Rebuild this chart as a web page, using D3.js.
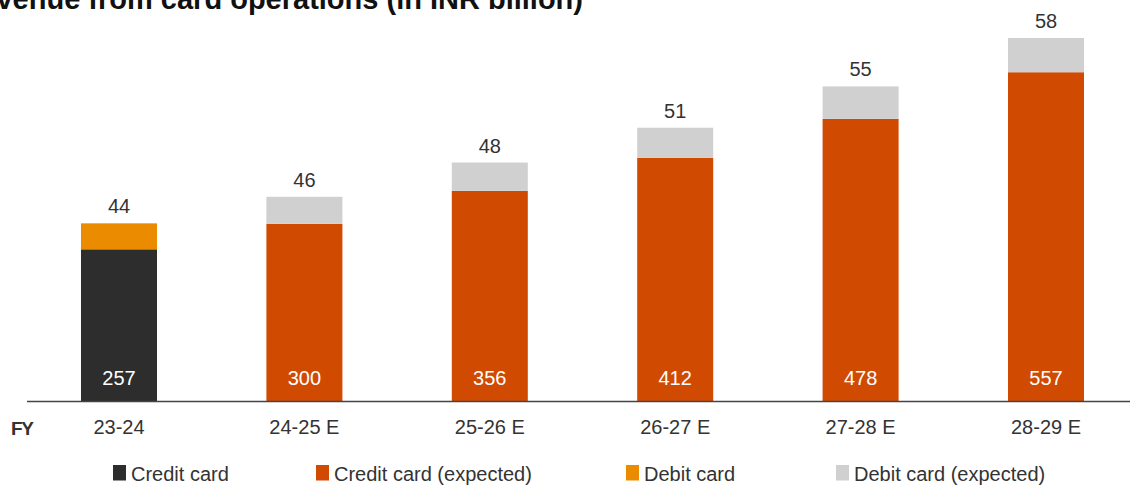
<!DOCTYPE html>
<html>
<head>
<meta charset="utf-8">
<script src="https://cdn.jsdelivr.net/npm/d3@7"></script>
<style>
  html, body { margin: 0; padding: 0; background: #fff; }
  svg { display: block; font-family: "Liberation Sans", Arial, Helvetica, sans-serif; }
</style>
</head>
<body>
<svg id="chart" width="1130" height="485"></svg>
<script>
// Revenue from card operations, INR billion
const years = ["23-24", "24-25 E", "25-26 E", "26-27 E", "27-28 E", "28-29 E"];
const creditValues = [257, 300, 356, 412, 478, 557];
const debitValues = [44, 46, 48, 51, 55, 58];
const expected = [false, true, true, true, true, true];
const legendLabels = ["Credit card", "Credit card (expected)", "Debit card", "Debit card (expected)"];

const colors = {
  credit: "#2d2d2d",
  creditExp: "#d04a02",
  debit: "#eb8c00",
  debitExp: "#d1d0d0"
};
const legendColors = [colors.credit, colors.creditExp, colors.debit, colors.debitExp];

const svg = d3.select("#chart");
const W = 1130;
const baseY = 401;

const x = d3.scaleBand()
  .domain(years)
  .range([26.3, 1138.7])
  .paddingInner(0.59)
  .paddingOuter(0.295);

const y = d3.scaleLinear()
  .domain([0, 615])
  .range([baseY, 38]);

const rows = years.map((yr, i) => ({
  year: yr,
  credit: creditValues[i],
  debit: debitValues[i],
  expected: expected[i]
}));

// Title (runs past the left edge)
svg.append("text")
  .attr("x", 583)
  .attr("y", 8.5)
  .attr("text-anchor", "end")
  .attr("font-size", 29)
  .attr("font-weight", "bold")
  .attr("fill", "#111")
  .text("Revenue from card operations (in INR billion)");

const g = svg.append("g");

// Credit segment
g.selectAll("rect.credit")
  .data(rows)
  .join("rect")
  .attr("class", "credit")
  .attr("x", d => x(d.year))
  .attr("width", x.bandwidth())
  .attr("y", d => y(d.credit))
  .attr("height", d => y(0) - y(d.credit))
  .attr("fill", d => d.expected ? colors.creditExp : colors.credit);

// Debit segment stacked on top
g.selectAll("rect.debit")
  .data(rows)
  .join("rect")
  .attr("class", "debit")
  .attr("x", d => x(d.year))
  .attr("width", x.bandwidth())
  .attr("y", d => y(d.credit + d.debit))
  .attr("height", d => y(d.credit) - y(d.credit + d.debit))
  .attr("fill", d => d.expected ? colors.debitExp : colors.debit);

// Credit value inside bar, near the base
g.selectAll("text.creditLabel")
  .data(rows)
  .join("text")
  .attr("class", "creditLabel")
  .attr("x", d => x(d.year) + x.bandwidth() / 2)
  .attr("y", baseY - 16)
  .attr("text-anchor", "middle")
  .attr("font-size", 20)
  .attr("fill", "#fff")
  .text(d => d.credit);

// Debit value above bar
g.selectAll("text.debitLabel")
  .data(rows)
  .join("text")
  .attr("class", "debitLabel")
  .attr("x", d => x(d.year) + x.bandwidth() / 2)
  .attr("y", d => y(d.credit + d.debit) - 10)
  .attr("text-anchor", "middle")
  .attr("font-size", 20)
  .attr("fill", "#333")
  .text(d => d.debit);

// Baseline axis
const axis = svg.append("g")
  .attr("transform", `translate(0,${baseY})`)
  .call(d3.axisBottom(x).tickSize(0).tickPadding(0));
axis.select(".domain")
  .attr("d", `M27,0.5H${W}`)
  .attr("stroke", "#444")
  .attr("stroke-width", 1.5);
axis.selectAll(".tick text")
  .attr("y", 33)
  .attr("dy", null)
  .attr("font-size", 20)
  .attr("font-family", "Liberation Sans, Arial, sans-serif")
  .attr("fill", "#333");

svg.append("text")
  .attr("x", 11)
  .attr("y", baseY + 34)
  .attr("font-size", 19)
  .attr("font-weight", "bold")
  .attr("fill", "#333")
  .attr("textLength", 23)
  .text("FY");

// Legend
const legendX = [113, 316, 626, 836];
const legend = svg.append("g")
  .selectAll("g")
  .data(legendLabels)
  .join("g")
  .attr("transform", (d, i) => `translate(${legendX[i]},465)`);
legend.append("rect")
  .attr("width", 13)
  .attr("height", 15.5)
  .attr("fill", (d, i) => legendColors[i]);
legend.append("text")
  .attr("x", 18)
  .attr("y", 15.5)
  .attr("font-size", 20)
  .attr("fill", "#333")
  .text(d => d);
</script>
</body>
</html>
